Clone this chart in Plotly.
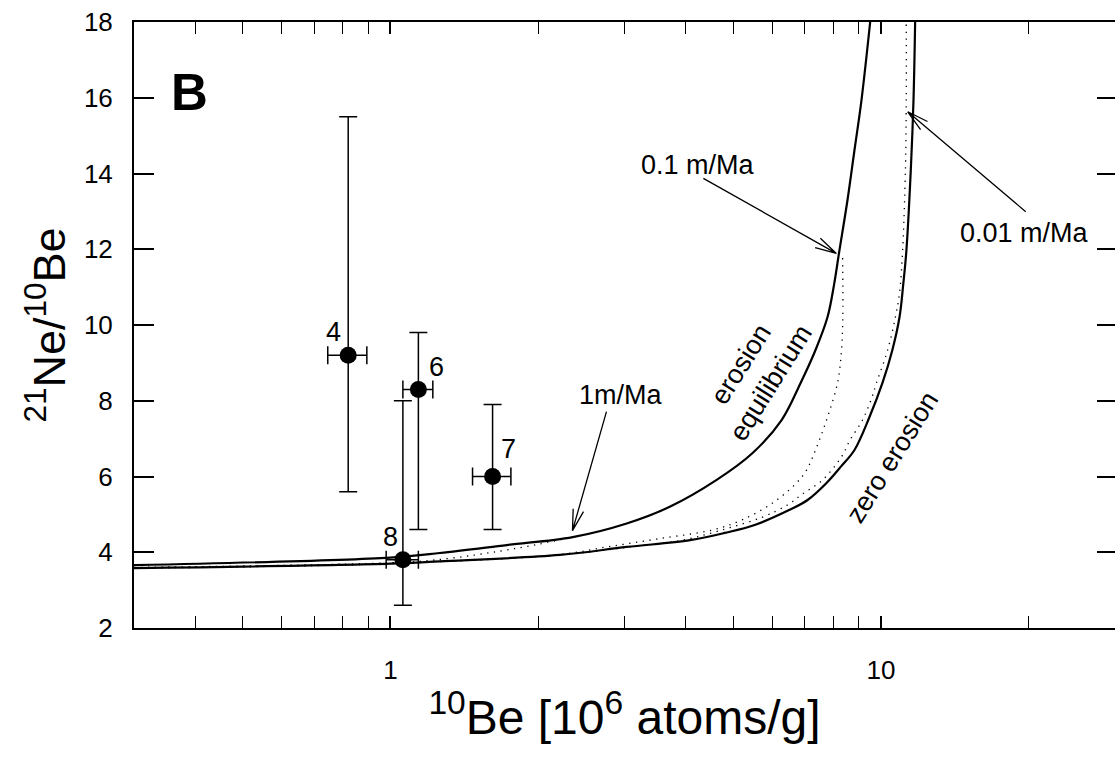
import numpy as np
import plotly.graph_objects as go

# ---------------- data ----------------
# erosion-equilibrium curve (solid)
eq_x = [0.3, 1.0, 1.261, 1.727, 2.353, 3.031, 3.710, 4.624, 5.474, 6.272, 6.857,
        7.355, 7.781, 8.022, 8.212, 8.546, 8.831, 9.126, 9.506]
eq_y = [3.66, 3.86, 3.98, 4.19, 4.40, 4.76, 5.20, 5.91, 6.62, 7.49, 8.47,
        9.34, 10.21, 11.06, 11.90, 13.30, 14.62, 15.94, 18.0]

# zero-erosion curve (solid)
zero_x = [0.3, 1.0, 1.261, 2.214, 3.031, 4.083, 4.801, 5.527, 6.512, 7.086, 7.745,
          8.309, 8.831, 9.475, 10.07, 10.55, 10.91, 11.11, 11.27, 11.51, 11.65, 11.74]
zero_y = [3.58, 3.70, 3.76, 3.93, 4.14, 4.32, 4.51, 4.72, 5.12, 5.38, 5.83,
          6.28, 6.70, 7.57, 8.47, 9.34, 10.21, 11.11, 11.98, 14.17, 15.94, 18.0]

# exposure paths with erosion (dotted)
path1_x = [0.3, 1.0, 1.322, 1.671, 2.016, 2.353]            # 1 m/Ma
path1_y = [3.59, 3.71, 3.84, 4.03, 4.22, 4.40]
path01_x = [0.3, 1.0, 2.214, 2.760, 3.539, 4.538, 5.198, 6.012, 6.727, 7.051,
            7.355, 7.781, 8.155, 8.309, 8.360, 8.350]         # 0.1 m/Ma
path01_y = [3.60, 3.72, 3.94, 4.14, 4.36, 4.59, 4.85, 5.30, 5.83, 6.17,
            6.70, 7.57, 8.47, 9.34, 10.21, 11.82]
path001_x = [0.3, 1.0, 2.214, 3.031, 3.942, 4.801, 5.737, 6.451, 6.921, 7.602,
             8.309, 8.647, 9.169, 9.542, 9.791, 10.32, 10.70, 10.91, 11.07,
             11.22, 11.26, 11.26]                            # 0.01 m/Ma
path001_y = [3.58, 3.70, 3.93, 4.13, 4.32, 4.61, 4.93, 5.25, 5.54, 5.91,
             6.52, 6.96, 7.49, 8.02, 8.47, 9.34, 10.21, 10.85, 11.98,
             14.17, 15.94, 18.0]

# samples
sample_ids = ["4", "6", "7", "8"]
be10 = [0.82, 1.14, 1.615, 1.06]
be10_err = [0.075, 0.08, 0.145, 0.08]
ratio = [9.2, 8.3, 6.0, 3.8]
ratio_err_plus = [6.3, 1.5, 1.9, 4.2]
ratio_err_minus = [3.6, 3.7, 1.4, 1.2]

x_major = [1, 10]
x_major_text = ["1", "10"]
x_minor = [0.4, 0.5, 0.6, 0.7, 0.8, 0.9, 2, 3, 4, 5, 6, 7, 8, 9, 20]
y_ticks = [2, 4, 6, 8, 10, 12, 14, 16, 18]

FONT = "Liberation Sans, Arial, Helvetica, sans-serif"

fig = go.Figure()

solid = dict(color="black", width=2.2, shape="spline", smoothing=1.0)
dotted = dict(color="black", width=1.3, dash="1.3px,5.5px", shape="spline", smoothing=1.0)

for xs, ys in [(path1_x, path1_y), (path01_x, path01_y), (path001_x, path001_y)]:
    fig.add_trace(go.Scatter(x=xs, y=ys, mode="lines", line=dotted,
                             showlegend=False, hoverinfo="skip"))
for xs, ys in [(eq_x, eq_y), (zero_x, zero_y)]:
    fig.add_trace(go.Scatter(x=xs, y=ys, mode="lines", line=solid,
                             showlegend=False, hoverinfo="skip"))

fig.add_trace(go.Scatter(
    x=be10, y=ratio, mode="markers",
    marker=dict(color="black", size=17, line=dict(width=0)),
    error_x=dict(type="data", array=be10_err, symmetric=True,
                 color="black", thickness=1.5, width=9),
    error_y=dict(type="data", array=ratio_err_plus, arrayminus=ratio_err_minus,
                 symmetric=False, color="black", thickness=1.5, width=9),
    showlegend=False,
))

# helper trace so the right-hand tick axis is drawn
fig.add_trace(go.Scatter(x=[1], y=[10], yaxis="y2", mode="markers",
                         marker=dict(opacity=0), showlegend=False, hoverinfo="skip"))

annotations = []
label_shift = {"4": (-15, 23), "6": (18, 22), "7": (16, 28), "8": (-12, 23)}
for sid, xv, yv in zip(sample_ids, be10, ratio):
    dx, dy = label_shift[sid]
    annotations.append(dict(x=np.log10(xv), y=yv, xref="x", yref="y", text=sid,
                            showarrow=False, xshift=dx, yshift=dy,
                            font=dict(size=27, color="black", family=FONT)))

lab_font = dict(size=27, color="black", family=FONT)
annotations += [
    dict(x=np.log10(0.39), y=16.13, text="<b>B</b>", showarrow=False,
         font=dict(size=51, color="black", family=FONT)),
    dict(x=np.log10(4.23), y=14.22, text="0.1 m/Ma", showarrow=False, font=lab_font),
    dict(x=np.log10(19.6), y=12.43, text="0.01 m/Ma", showarrow=False, font=lab_font),
    dict(x=np.log10(2.95), y=8.15, text="1m/Ma", showarrow=False, font=lab_font),
    dict(x=np.log10(5.55), y=8.73, text="erosion<br>equilibrium", showarrow=False,
         textangle=-58, font=dict(size=27, color="black", family=FONT)),
    dict(x=np.log10(10.55), y=6.51, text="zero erosion", showarrow=False,
         textangle=-58, font=dict(size=27, color="black", family=FONT)),
]
for a in annotations:
    a.setdefault("xref", "x")
    a.setdefault("yref", "y")

# arrows: tip in data units, tail as a screen offset (px, y downwards)
arrows = [
    (8.11, 11.89, -133, -75),
    (11.34, 15.63, 118, 100),
    (2.35, 4.57, 34, -119),
]
shapes = []
HEAD_LEN, HEAD_ANG = 22.0, np.radians(14)
for tx, ty, dx, dy in arrows:
    ang = np.arctan2(dy, dx)
    pts = []
    for s in (+1, -1):
        a = ang + s * HEAD_ANG
        pts.append((HEAD_LEN * np.cos(a), HEAD_LEN * np.sin(a)))
    # pixel-mode path: y offsets point upwards, so flip the sign
    path = (f"M0,0 L{dx:.1f},{-dy:.1f} "
            f"M{pts[0][0]:.1f},{-pts[0][1]:.1f} L0,0 L{pts[1][0]:.1f},{-pts[1][1]:.1f}")
    shapes.append(dict(type="path", xref="x", yref="y", xsizemode="pixel",
                       ysizemode="pixel", xanchor=tx, yanchor=ty, path=path,
                       line=dict(color="black", width=1.3)))

fig.update_layout(
    width=1115, height=762,
    margin=dict(l=134, r=0, t=22, b=134, pad=0),
    paper_bgcolor="white", plot_bgcolor="white",
    font=dict(family=FONT, color="black"),
    annotations=annotations,
    shapes=shapes,
    xaxis=dict(
        type="log", range=[np.log10(0.3), np.log10(30)],
        showline=True, linecolor="black", linewidth=2, mirror="allticks",
        ticks="inside", ticklen=12, tickwidth=2, tickcolor="black",
        tickmode="array", tickvals=x_major, ticktext=x_major_text,
        tickfont=dict(size=26, family=FONT, color="black"),
        ticklabelstandoff=18,
        minor=dict(ticks="inside", ticklen=7, tickwidth=1, tickcolor="black",
                   tickmode="array", tickvals=x_minor, showgrid=False),
        showgrid=False, zeroline=False,
        title=dict(text="<sup>10</sup>Be [10<sup>6</sup> atoms/g]",
                   font=dict(size=48, family=FONT, color="black"), standoff=16),
    ),
    yaxis=dict(
        range=[2, 18], showline=True, linecolor="black", linewidth=2, mirror=False,
        ticks="inside", ticklen=20, tickwidth=2, tickcolor="black",
        tickmode="array", tickvals=y_ticks,
        tickfont=dict(size=26, family=FONT, color="black"),
        ticklabelstandoff=14,
        showgrid=False, zeroline=False,
        title=dict(text="<sup>21</sup>Ne/<sup>10</sup>Be",
                   font=dict(size=45, family=FONT, color="black"), standoff=4),
    ),
    yaxis2=dict(
        range=[2, 18], overlaying="y", side="right", showline=False,
        ticks="inside", ticklen=18, tickwidth=2, tickcolor="black",
        tickmode="array", tickvals=y_ticks, showticklabels=False,
        showgrid=False, zeroline=False,
    ),
)

fig.write_html("out.html")
